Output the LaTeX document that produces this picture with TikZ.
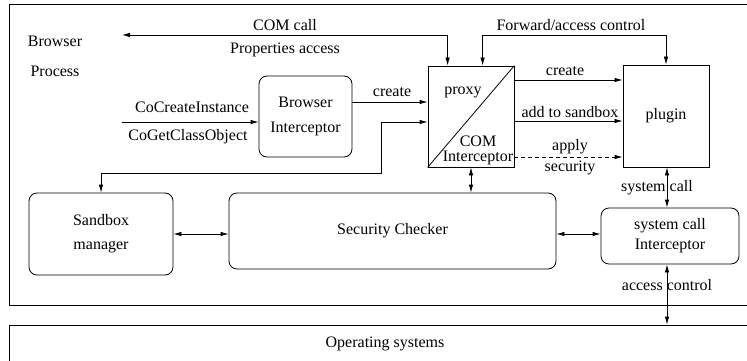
\documentclass[tikz,border=0pt]{standalone}
\usepackage{fontspec}
\setmainfont{Liberation Serif}
\usetikzlibrary{arrows.meta,calc}
\begin{document}
\begin{tikzpicture}[x=1pt,y=-1pt,line width=0.8pt,
  tip/.style={-{Latex[length=8pt,width=4.5pt]}},
  both/.style={{Latex[length=8pt,width=4.5pt]}-{Latex[length=8pt,width=4.5pt]}},
  lbl/.style={font=\fontsize{16}{19}\selectfont,inner sep=0pt},
  rbox/.style={draw,rounded corners=8pt,inner sep=0pt,align=center},
  sbox/.style={draw,inner sep=0pt,align=center}]
\useasboundingbox (0,0) rectangle (747,361);
\begin{scope}
\clip (0,0) rectangle (747,361);
\node[sbox,minimum width=751pt,minimum height=301pt] (bp) at (385,154.5) {};
\node[sbox,minimum width=751pt,minimum height=37pt,font=\fontsize{16}{19}\selectfont] (os) at (385,343.5) {Operating systems};
\end{scope}

\node[lbl] (t1) at (55,41) {Browser};
\node[lbl] (t2) at (55,71) {Process};

\node[rbox,minimum width=93pt,minimum height=81pt,font=\fontsize{16}{25}\selectfont] (bi) at (305.5,116.5) {Browser\\Interceptor};
\node[sbox,minimum width=86pt,minimum height=101pt] (proxy) at (471,116.5) {};
\draw (proxy.south west) -- (proxy.north east);
\node[lbl] (tproxy) at (463,92) {proxy};
\node[lbl,align=center,font=\fontsize{16}{15}\selectfont] (tcom) at (478,150) {COM\\Interceptor};
\node[sbox,minimum width=86pt,minimum height=102pt,font=\fontsize{16}{19}\selectfont] (plugin) at (666,116) {plugin};

\node[rbox,minimum width=144pt,minimum height=82pt,font=\fontsize{16}{24}\selectfont] (sbm) at (101,234) {Sandbox\\manager};
\node[rbox,minimum width=327pt,minimum height=76pt,font=\fontsize{16}{19}\selectfont] (sc) at (392.5,231) {Security Checker};
\node[rbox,minimum width=138pt,minimum height=56pt,font=\fontsize{16}{20}\selectfont] (sci) at (670,236) {system call\\Interceptor};

% top connectors
\coordinate (comin) at ($(proxy.north west)+(20,0)$);
\coordinate (fwin) at ($(proxy.north west)+(55,0)$);
\coordinate (comend) at (122,35);
\draw[both] (comin) -- (comin |- comend) -- (comend);
\draw[both] (fwin) -- (fwin |- comend) -| (plugin.north);

% left side
\coordinate (cci) at (122,122);
\draw[tip] (cci) -- (cci -| bi.west);
\coordinate (c4) at ($(bi.east)+(0,-14.5)$);
\draw[tip] (c4) -- (c4 -| proxy.west);
\coordinate (k1) at (381,122);
\coordinate (k2) at (101,173);
\draw[both] (proxy.west |- k1) -- (k1) |- (sbm.north |- k2) -- (sbm.north);

% proxy -> plugin
\coordinate (c1) at ($(proxy.east)+(0,-36.5)$);
\coordinate (c2) at ($(proxy.east)+(0,4.5)$);
\coordinate (c3) at ($(proxy.east)+(0,40.5)$);
\draw[tip] (c1) -- (c1 -| plugin.west);
\draw[tip] (c2) -- (c2 -| plugin.west);
\draw[tip,dash pattern=on 4pt off 3pt] (c3) -- (c3 -| plugin.west);

% lower connectors
\draw[both] (proxy.south) -- (proxy.south |- sc.north);
\draw[both] (sbm.east) -- (sbm.east -| sc.west);
\coordinate (c5) at ($(sc.east)+(0,3)$);
\draw[both] (c5) -- (c5 -| sci.west);
\coordinate (v1) at (667,0);
\draw[both] (plugin.south -| v1) -- (sci.north -| v1);
\draw[both] (sci.south -| v1) -- (os.north -| v1);

% labels
\node[lbl] (l1) at (285,25) {COM call};
\node[lbl] (l2) at (285,50) {Properties access};
\node[lbl] (l3) at (571,25) {Forward/access control};
\node[lbl] (l4) at (192,107) {CoCreateInstance};
\node[lbl] (l5) at (188,137) {CoGetClassObject};
\node[lbl] (l6) at (392,92) {create};
\node[lbl] (l7) at (565,71) {create};
\node[lbl] (l8) at (570,112) {add to sandbox};
\node[lbl] (l9) at (570,147) {apply};
\node[lbl] (l10) at (570,168) {security};
\node[lbl] (l11) at (657,188) {system call};
\node[lbl] (l12) at (667,285) {access control};
\end{tikzpicture}
\end{document}
